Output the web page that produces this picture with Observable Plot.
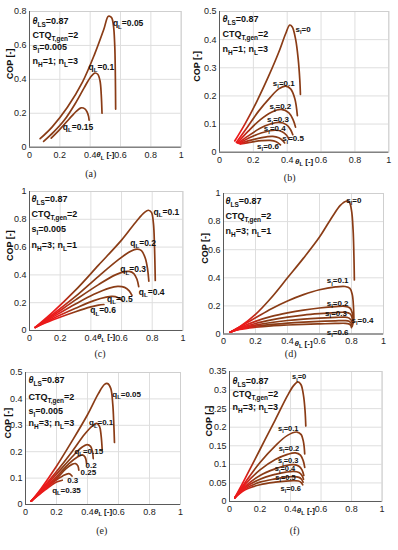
<!DOCTYPE html>
<html><head><meta charset="utf-8">
<script src="https://cdn.jsdelivr.net/npm/d3@7"></script>
<script src="https://cdn.jsdelivr.net/npm/@observablehq/plot@0.6"></script>
<style>
body{margin:0;background:#fff;}
#root{position:relative;width:398px;height:550px;overflow:hidden;font-family:"Liberation Sans",Arial,sans-serif;}
.panel{position:absolute;}
.cap{position:absolute;font-family:"Liberation Serif","Times New Roman",serif;font-size:10px;color:#222;transform:translate(-50%,-50%);white-space:nowrap;}
</style></head><body><div id="root"></div>
<script>
// ---------- data ----------
const xTicks = [0, 0.2, 0.4, 0.6, 0.8, 1];
const yTicksA = [0, 0.2, 0.4, 0.6, 0.8];
const yTicksB = [0, 0.1, 0.2, 0.3, 0.4, 0.5];
const yTicksC = [0, 0.2, 0.4, 0.6, 0.8, 1];
const yTicksD = [0, 0.2, 0.4, 0.6, 0.8, 1];
const yTicksE = [0, 0.1, 0.2, 0.3, 0.4, 0.5];
const yTicksF = [0, 0.05, 0.1, 0.15, 0.2, 0.25, 0.3, 0.35];

const paramsA = ["θ_{LS}=0.87", "CTQ_{T,gen}=2", "s_{l}=0.005", "n_{H}=1; n_{L}=3"];
const paramsB = ["θ_{LS}=0.87", "CTQ_{T,gen}=2", "n_{H}=1; n_{L}=3"];
const paramsC = ["θ_{LS}=0.87", "CTQ_{T,gen}=2", "s_{l}=0.005", "n_{H}=3; n_{L}=1"];
const paramsD = ["θ_{LS}=0.87", "CTQ_{T,gen}=2", "n_{H}=3; n_{L}=1"];
const paramsE = ["θ_{LS}=0.87", "CTQ_{T,gen}=2", "s_{l}=0.005", "n_{H}=3; n_{L}=3"];
const paramsF = ["θ_{LS}=0.87", "CTQ_{T,gen}=2", "n_{H}=3; n_{L}=3"];

const xLabel = "θ_{L} [-]";
const yLabel = "COP [-]";
const captions = ["(a)", "(b)", "(c)", "(d)", "(e)", "(f)"];

const seriesA = [
  ["q_{L}=0.05", [[0.07,0.05],[0.15,0.12],[0.25,0.235],[0.35,0.385],[0.43,0.55],[0.49,0.695],[0.52,0.772],[0.54,0.765],[0.553,0.72],[0.562,0.6],[0.566,0.42],[0.568,0.225]]],
  ["q_{L}=0.1", [[0.093,0.034],[0.16,0.09],[0.23,0.16],[0.3,0.255],[0.36,0.35],[0.4,0.41],[0.43,0.437],[0.45,0.43],[0.465,0.39],[0.473,0.31],[0.478,0.2]]],
  ["q_{L}=0.15", [[0.143,0.053],[0.2,0.105],[0.26,0.165],[0.31,0.213],[0.34,0.232],[0.365,0.226],[0.38,0.207],[0.389,0.183],[0.393,0.16]]]
];
const seriesB = [
  ["s_{l}=0", [[0.09,0.04],[0.15,0.1],[0.22,0.18],[0.29,0.27],[0.35,0.355],[0.39,0.42],[0.415,0.452],[0.43,0.445],[0.45,0.4],[0.465,0.33],[0.474,0.26],[0.478,0.205]]],
  ["s_{l}=0.1", [[0.1,0.035],[0.16,0.085],[0.23,0.145],[0.3,0.195],[0.35,0.225],[0.39,0.235],[0.42,0.225],[0.445,0.19],[0.46,0.13]]],
  ["s_{l}=0.2", [[0.105,0.033],[0.17,0.075],[0.24,0.115],[0.31,0.143],[0.365,0.152],[0.41,0.14],[0.435,0.115],[0.449,0.089]]],
  ["s_{l}=0.3", [[0.11,0.032],[0.17,0.058],[0.24,0.085],[0.3,0.1],[0.35,0.106],[0.395,0.098],[0.42,0.08],[0.433,0.062]]],
  ["s_{l}=0.4", [[0.115,0.031],[0.18,0.052],[0.25,0.069],[0.33,0.078],[0.37,0.073],[0.395,0.061],[0.41,0.046]]],
  ["s_{l}=0.5", [[0.12,0.03],[0.18,0.042],[0.25,0.052],[0.315,0.056],[0.35,0.051],[0.372,0.042],[0.385,0.033]]],
  ["s_{l}=0.6", [[0.125,0.029],[0.19,0.036],[0.25,0.041],[0.3,0.042],[0.335,0.037],[0.36,0.026]]]
];
const seriesC = [
  ["q_{L}=0.1", [[0.037,0.022],[0.15,0.13],[0.3,0.29],[0.45,0.47],[0.6,0.65],[0.7,0.79],[0.75,0.85],[0.775,0.865],[0.795,0.85],[0.808,0.77],[0.815,0.6],[0.82,0.36]]],
  ["q_{L}=0.2", [[0.037,0.022],[0.15,0.115],[0.3,0.245],[0.45,0.39],[0.58,0.51],[0.66,0.57],[0.7,0.585],[0.73,0.575],[0.755,0.52],[0.77,0.44],[0.778,0.355]]],
  ["q_{L}=0.3", [[0.037,0.022],[0.15,0.105],[0.3,0.22],[0.45,0.33],[0.56,0.4],[0.62,0.423],[0.65,0.425],[0.68,0.41],[0.7,0.37],[0.712,0.315]]],
  ["q_{L}=0.4", [[0.037,0.022],[0.15,0.095],[0.3,0.19],[0.42,0.26],[0.52,0.305],[0.575,0.317],[0.62,0.31],[0.65,0.285],[0.668,0.252]]],
  ["q_{L}=0.5", [[0.037,0.022],[0.15,0.085],[0.3,0.16],[0.42,0.215],[0.5,0.24],[0.54,0.245],[0.575,0.237],[0.603,0.216]]],
  ["q_{L}=0.6", [[0.037,0.022],[0.15,0.075],[0.3,0.135],[0.4,0.17],[0.45,0.183],[0.485,0.187]]]
];
const seriesD = [
  ["s_{l}=0", [[0.042,0.013],[0.1,0.05],[0.2,0.14],[0.3,0.26],[0.4,0.4],[0.5,0.54],[0.6,0.69],[0.68,0.835],[0.73,0.915],[0.765,0.945],[0.785,0.94],[0.8,0.88],[0.81,0.74],[0.815,0.56],[0.818,0.385]]],
  ["s_{l}=0.1", [[0.042,0.013],[0.1,0.05],[0.2,0.115],[0.3,0.18],[0.4,0.235],[0.5,0.28],[0.6,0.315],[0.7,0.335],[0.76,0.338],[0.79,0.325],[0.805,0.28],[0.812,0.2],[0.815,0.11]]],
  ["s_{l}=0.2", [[0.042,0.013],[0.1,0.045],[0.2,0.09],[0.3,0.125],[0.4,0.15],[0.5,0.17],[0.6,0.185],[0.7,0.195],[0.76,0.197],[0.79,0.185],[0.805,0.15],[0.812,0.09]]],
  ["s_{l}=0.3", [[0.042,0.013],[0.1,0.04],[0.2,0.075],[0.3,0.1],[0.4,0.12],[0.5,0.135],[0.6,0.145],[0.7,0.152],[0.76,0.154],[0.79,0.145],[0.803,0.12],[0.81,0.075]]],
  ["s_{l}=0.4", [[0.042,0.013],[0.1,0.037],[0.2,0.063],[0.3,0.082],[0.4,0.096],[0.5,0.106],[0.6,0.113],[0.7,0.118],[0.76,0.12],[0.785,0.113],[0.8,0.095],[0.808,0.065]]],
  ["s_{l}=0.5", [[0.042,0.013],[0.1,0.034],[0.2,0.055],[0.3,0.068],[0.4,0.078],[0.5,0.085],[0.6,0.09],[0.7,0.094],[0.76,0.095],[0.785,0.09],[0.798,0.076],[0.805,0.055]]],
  ["s_{l}=0.6", [[0.042,0.013],[0.1,0.032],[0.2,0.048],[0.3,0.058],[0.4,0.064],[0.5,0.069],[0.6,0.072],[0.7,0.075],[0.76,0.076],[0.783,0.072],[0.795,0.062],[0.8,0.045]]]
];
const seriesE = [
  ["q_{L}=0.05", [[0.037,0.013],[0.1,0.06],[0.2,0.145],[0.3,0.24],[0.4,0.34],[0.47,0.42],[0.51,0.455],[0.53,0.458],[0.55,0.44],[0.563,0.38],[0.57,0.3],[0.574,0.235]]],
  ["q_{L}=0.1", [[0.037,0.013],[0.1,0.055],[0.2,0.125],[0.3,0.2],[0.38,0.265],[0.43,0.297],[0.46,0.307],[0.478,0.295],[0.488,0.26],[0.495,0.206]]],
  ["q_{L}=0.15", [[0.037,0.013],[0.1,0.052],[0.2,0.115],[0.3,0.18],[0.36,0.215],[0.398,0.227],[0.42,0.22],[0.432,0.2],[0.437,0.174]]],
  ["0.2", [[0.037,0.013],[0.1,0.05],[0.2,0.105],[0.28,0.155],[0.335,0.18],[0.366,0.188],[0.384,0.18],[0.394,0.155]]],
  ["0.25", [[0.037,0.013],[0.1,0.048],[0.2,0.098],[0.26,0.135],[0.3,0.152],[0.323,0.155],[0.338,0.146],[0.344,0.13]]],
  ["0.3", [[0.037,0.013],[0.1,0.045],[0.18,0.085],[0.24,0.108],[0.28,0.117],[0.3,0.108]]],
  ["q_{L}=0.35", [[0.037,0.013],[0.1,0.043],[0.16,0.07],[0.2,0.085],[0.237,0.092]]]
];
const seriesF = [
  ["s_{l}=0", [[0.035,0.01],[0.1,0.06],[0.2,0.14],[0.3,0.22],[0.38,0.285],[0.42,0.312],[0.448,0.322],[0.468,0.315],[0.485,0.285],[0.495,0.245],[0.5,0.203]]],
  ["s_{l}=0.1", [[0.035,0.01],[0.1,0.05],[0.2,0.105],[0.3,0.15],[0.38,0.178],[0.443,0.187],[0.47,0.18],[0.485,0.16],[0.493,0.128]]],
  ["s_{l}=0.2", [[0.035,0.01],[0.1,0.045],[0.2,0.085],[0.3,0.113],[0.38,0.127],[0.432,0.131],[0.465,0.125],[0.483,0.11],[0.493,0.092]]],
  ["s_{l}=0.3", [[0.035,0.01],[0.1,0.04],[0.2,0.07],[0.3,0.088],[0.37,0.097],[0.42,0.099],[0.455,0.095],[0.475,0.085],[0.487,0.07]]],
  ["s_{l}=0.4", [[0.035,0.01],[0.1,0.037],[0.2,0.06],[0.3,0.073],[0.37,0.079],[0.42,0.081],[0.455,0.078],[0.475,0.07],[0.485,0.06]]],
  ["s_{l}=0.5", [[0.035,0.01],[0.1,0.034],[0.2,0.052],[0.3,0.061],[0.37,0.066],[0.42,0.067],[0.455,0.065],[0.472,0.06],[0.482,0.052]]],
  ["s_{l}=0.6", [[0.035,0.01],[0.1,0.031],[0.2,0.045],[0.3,0.052],[0.37,0.055],[0.42,0.056],[0.452,0.055],[0.47,0.051],[0.48,0.045]]]
];

// ---------- layout ----------
const panels = [
  {id:"a", series:seriesA, params:paramsA, yTicks:yTicksA, box:[29.3,181,11,146.7],
   labelPos:[[0.55,0.73],[0.389,0.472],[0.22,0.118]], labelSize:8.5,
   paramDx:3, paramDy:[6,20,32,46], xlab:[0.5,10], ylabDx:-19, grad:null, cap:[90.7,172.7]},
  {id:"b", series:seriesB, params:paramsB, yTicks:yTicksB, box:[218.7,388,11,151.7],
   labelPos:[[0.449,0.438],[0.315,0.245],[0.295,0.162],[0.281,0.115],[0.262,0.083],[0.37,0.048],[0.222,0.021]], labelSize:8,
   paramDx:3, paramDy:[4.5,19.5,34], xlab:[0.5,11.5], ylabDx:-22, grad:[0.12,0.2], cap:[289.7,176.7]},
  {id:"c", series:seriesC, params:paramsC, yTicks:yTicksC, box:[29.3,182.7,191,330],
   labelPos:[[0.809,0.851],[0.657,0.628],[0.592,0.437],[0.713,0.276],[0.505,0.228],[0.396,0.144]], labelSize:8.5,
   paramDx:2, paramDy:[4.5,19.5,34,50], xlab:[0.5,9], ylabDx:-19, grad:[0.18,0.3], cap:[100,353]},
  {id:"d", series:seriesD, params:paramsD, yTicks:yTicksD, box:[223,383,193,333.5],
   labelPos:[[0.767,0.952],[0.645,0.38],[0.645,0.22],[0.635,0.148],[0.80,0.096],[null,null],[0.645,0.013]], labelSize:8,
   paramDx:2, paramDy:[4,19,34], xlab:[0.5,12], ylabDx:-18, grad:[0.14,0.26], cap:[290.7,353]},
  {id:"e", series:seriesE, params:paramsE, yTicks:yTicksE, box:[25,180,372.3,504.3],
   labelPos:[[0.56,0.417],[0.41,0.31],[0.316,0.202],[0.387,0.149],[0.355,0.12],[0.269,0.092],[0.172,0.054]], labelSize:8,
   paramDx:3, paramDy:[4.5,21,35,47.5], xlab:[0.5,9], ylabDx:-17, grad:[0.14,0.24], cap:[101.7,530]},
  {id:"f", series:seriesF, params:paramsF, yTicks:yTicksF, box:[228.7,381.3,371,501],
   labelPos:[[0.41,0.335],[0.318,0.197],[0.323,0.142],[0.318,0.109],[0.297,0.0875],[0.30,0.0645],[0.334,0.036]], labelSize:7.5,
   paramDx:3, paramDy:[6,19,32.3], xlab:[0.5,11.5], ylabDx:-20.5, grad:[0.1,0.17], cap:[294.7,530]}
];

const fmt = d => String(+d.toFixed(2));
const LINE = "#8a3c16", RED = "#ea1a1a";
const ns = "http://www.w3.org/2000/svg";

function richText(svg) {
  svg.querySelectorAll("text").forEach(t => {
    const s = t.textContent;
    if (!/_\{|θ/.test(s)) return;
    const fs = parseFloat(getComputedStyle(t).fontSize) || 9;
    const segs = []; let i = 0, buf = "";
    while (i < s.length) {
      if (s.startsWith("_{", i)) {
        if (buf) segs.push({t:buf}); buf = "";
        const j = s.indexOf("}", i);
        segs.push({t:s.slice(i+2, j), sub:true}); i = j + 1;
      } else if (s[i] === "θ") {
        if (buf) segs.push({t:buf}); buf = "";
        segs.push({t:"θ", it:true}); i++;
      } else { buf += s[i]; i++; }
    }
    if (buf) segs.push({t:buf});
    t.textContent = "";
    let off = 0;
    for (const sg of segs) {
      const ts = document.createElementNS(ns, "tspan");
      ts.textContent = sg.t;
      const target = sg.sub ? 0.3 * fs : 0;
      if (target !== off) { ts.setAttribute("dy", (target - off).toFixed(2)); off = target; }
      if (sg.sub) ts.setAttribute("font-size", (0.72 * fs).toFixed(2));
      if (sg.it) ts.setAttribute("font-style", "italic");
      t.appendChild(ts);
    }
  });
}

const root = document.getElementById("root");
panels.forEach((p, k) => {
  const [L, R, T, B] = p.box;
  const mL = 34, mR = 6, mT = 6, mB = 20;
  const rows = p.series.flatMap(([name, pts]) => pts.map(([x, y]) => ({name, x, y})));
  const labels = p.series.map(([name], i) => ({text:name, x:p.labelPos[i][0], y:p.labelPos[i][1]}))
    .filter(d => d.x != null);
  const yT = p.yTicks;
  const svg = Plot.plot({
    width: R - L + mL + mR, height: B - T + mT + mB,
    marginLeft: mL, marginRight: mR, marginTop: mT, marginBottom: mB,
    style: {fontFamily: "'Liberation Sans', Arial, sans-serif", fontSize: "9px", background: "transparent", overflow: "visible"},
    x: {domain: [xTicks[0], xTicks[xTicks.length-1]]},
    y: {domain: [yT[0], yT[yT.length-1]]},
    marks: [
      Plot.gridX(xTicks, {stroke: "#dedede", strokeOpacity: 1}),
      Plot.gridY(yT, {stroke: "#dedede", strokeOpacity: 1}),
      Plot.frame({stroke: "#cfcfcf"}),
      Plot.ruleX([xTicks[0]], {stroke: "#5a5a5a"}),
      Plot.ruleY([yT[0]], {stroke: "#5a5a5a"}),
      Plot.axisX(xTicks, {tickSize: 0, tickPadding: 4, tickFormat: fmt, label: null, fill: "#222", fontSize: 9}),
      Plot.axisY(yT, {tickSize: 0, tickPadding: 3, tickFormat: fmt, label: null, fill: "#222", fontSize: 9}),
      Plot.line(rows, {x: "x", y: "y", z: "name", stroke: LINE, strokeWidth: 1.7, curve: "catmull-rom", strokeLinejoin: "round", strokeLinecap: "round"}),
      Plot.text(labels, {x: "x", y: "y", text: "text", textAnchor: "start", fontSize: p.labelSize, fontWeight: "bold", fill: "#111"}),
      ...p.params.map((s, i) => Plot.text([s], {frameAnchor: "top-left", dx: p.paramDx, dy: p.paramDy[i], textAnchor: "start", fontSize: 9, fontWeight: "bold", fill: "#111"})),
      Plot.text([xLabel], {x: [p.xlab[0]], frameAnchor: "bottom", dy: p.xlab[1], fontSize: 8, fontWeight: "bold", fill: "#111"}),
      Plot.text([yLabel], {frameAnchor: "left", rotate: -90, dx: p.ylabDx, fontSize: 9, fontWeight: "bold", fill: "#111"})
    ]
  });
  const div = document.createElement("div");
  div.className = "panel";
  div.style.left = (L - mL) + "px";
  div.style.top = (T - mT) + "px";
  div.appendChild(svg);
  root.appendChild(div);
  richText(svg);
  if (p.grad) {
    const xs = svg.scale("x");
    const defs = document.createElementNS(ns, "defs");
    const lg = document.createElementNS(ns, "linearGradient");
    lg.setAttribute("id", "grad" + p.id);
    lg.setAttribute("gradientUnits", "userSpaceOnUse");
    lg.setAttribute("x1", xs.apply(p.grad[0])); lg.setAttribute("x2", xs.apply(p.grad[1]));
    lg.setAttribute("y1", 0); lg.setAttribute("y2", 0);
    [[0, RED], [1, LINE]].forEach(([o, c]) => {
      const st = document.createElementNS(ns, "stop");
      st.setAttribute("offset", o); st.setAttribute("stop-color", c);
      lg.appendChild(st);
    });
    defs.appendChild(lg);
    svg.insertBefore(defs, svg.firstChild);
    svg.querySelectorAll('g[aria-label="line"]').forEach(g => g.setAttribute("stroke", `url(#grad${p.id})`));
  }
  const cap = document.createElement("div");
  cap.className = "cap";
  cap.textContent = captions[k];
  cap.style.left = p.cap[0] + "px";
  cap.style.top = p.cap[1] + "px";
  root.appendChild(cap);
});
</script></body></html>
